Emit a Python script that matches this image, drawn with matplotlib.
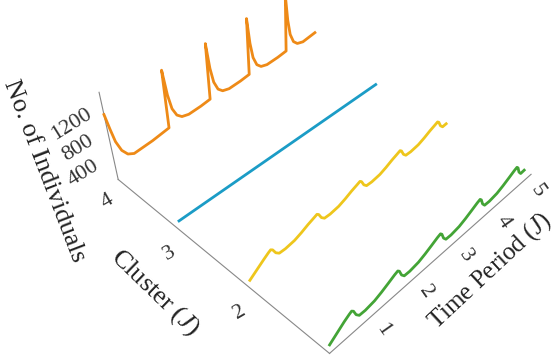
import matplotlib
matplotlib.use("Agg")
import matplotlib.pyplot as plt

plt.rcParams['font.family'] = ['Liberation Serif', 'DejaVu Serif']
plt.rcParams['mathtext.fontset'] = 'custom'
plt.rcParams['mathtext.it'] = 'Liberation Serif:italic'
plt.rcParams['mathtext.rm'] = 'Liberation Serif'

# ---- data ----
clusters = [1, 2, 3, 4]
time_ticks = [0, 1, 2, 3, 4, 5]
count_ticks = [400, 800, 1200]

t_green = [0.00, 0.15, 0.30, 0.40,
           0.45, 0.49, 0.55, 0.62, 0.75, 0.95, 1.10, 1.25, 1.38,
           1.45, 1.49, 1.55, 1.62, 1.75, 1.95, 2.10, 2.25, 2.38,
           2.45, 2.49, 2.55, 2.62, 2.75, 2.95, 3.10, 3.25, 3.38,
           3.45, 3.49, 3.55, 3.62, 3.75, 3.95, 4.10, 4.25, 4.38,
           4.45, 4.49, 4.55, 4.62, 4.72]
v_green = [150, 240, 330, 380,
           400, 370, 270, 210, 205, 230, 275, 330, 380,
           400, 370, 270, 210, 205, 230, 275, 330, 380,
           400, 370, 270, 210, 205, 230, 275, 330, 380,
           400, 370, 270, 210, 205, 230, 275, 330, 380,
           400, 370, 270, 210, 215]

t_yellow = t_green
v_yellow = [140, 220, 300, 350,
            370, 345, 260, 210, 205, 225, 265, 315, 350,
            370, 345, 260, 210, 205, 225, 265, 315, 350,
            370, 345, 260, 210, 205, 225, 265, 315, 350,
            370, 345, 260, 210, 205, 225, 265, 315, 350,
            370, 345, 260, 210, 215]

t_blue = [0.0, 1.0, 2.0, 3.0, 4.0, 4.72]
v_blue = [170, 170, 170, 170, 170, 170]

t_orange = [0.00, 0.05, 0.10, 0.18, 0.28, 0.40, 0.80,
            1.17, 1.20, 1.24, 1.29, 1.37, 1.47, 1.62, 1.90,
            2.12, 2.15, 2.19, 2.24, 2.32, 2.42, 2.57, 2.85,
            3.07, 3.10, 3.14, 3.19, 3.27, 3.37, 3.52, 3.80,
            4.02, 4.05, 4.09, 4.14, 4.22, 4.32, 4.47, 4.80]
v_orange = [1050, 800, 580, 400, 290, 240, 260,
            300, 1200, 800, 560, 420, 350, 320, 330,
            350, 1220, 820, 580, 430, 360, 330, 340,
            360, 1240, 840, 590, 440, 370, 340, 350,
            370, 1260, 850, 600, 450, 380, 350, 380]

series = [
    (1, t_green, v_green, '#43A436'),
    (2, t_yellow, v_yellow, '#EEC61C'),
    (3, t_blue, v_blue, '#1B9CC6'),
    (4, t_orange, v_orange, '#EE8A17'),
]

fig = plt.figure(figsize=(5.57, 3.63), dpi=100)
ax = fig.add_axes([0.058, -0.007, 1.03, 1.2355], projection='3d')
ax.set_proj_type('persp', focal_length=0.38)
ax.view_init(elev=43, azim=-136)
ax.set_box_aspect((1.0, 1.0, 0.39), zoom=0.968)

for c, t, v, col in series:
    ax.plot(t, [c] * len(t), v, color=col, lw=2.0)

ax.set_xlim(0, 5)
ax.set_ylim(1, 4)
ax.set_zlim(0, 1380)
ax.set_xticks(time_ticks)
ax.set_yticks(clusters)
ax.set_zticks(count_ticks)

for axis in (ax.xaxis, ax.yaxis, ax.zaxis):
    axis.set_pane_color((1, 1, 1, 0))
    axis.pane.set_edgecolor((1, 1, 1, 0))
    axis.line.set_color('#888888')
    axis.line.set_linewidth(0.8)
    axis._axinfo['tick']['inward_factor'] = 0
    axis._axinfo['tick']['outward_factor'] = 0
    axis._axinfo['grid']['linewidth'] = 0
ax.grid(False)

ax.tick_params(axis='both', labelsize=16, colors='#333333')
ax.tick_params(axis='x', labelrotation=-55, pad=-3)
ax.tick_params(axis='y', labelrotation=30, pad=0)
ax.tick_params(axis='z', labelrotation=32)
ax.set_xlabel('')
ax.set_ylabel('')
fig.text(0.880, 0.255, 'Time Period ($J$)', fontsize=18, rotation=43,
         ha='center', va='center', color='#222222')
fig.text(0.278, 0.193, 'Cluster ($J$)', fontsize=19, rotation=-44,
         ha='center', va='center', color='#222222')
fig.text(0.080, 0.53, 'No. of Individuals', fontsize=19, rotation=-69,
         ha='center', va='center', color='#222222')

fig.savefig('out.png', dpi=100)
